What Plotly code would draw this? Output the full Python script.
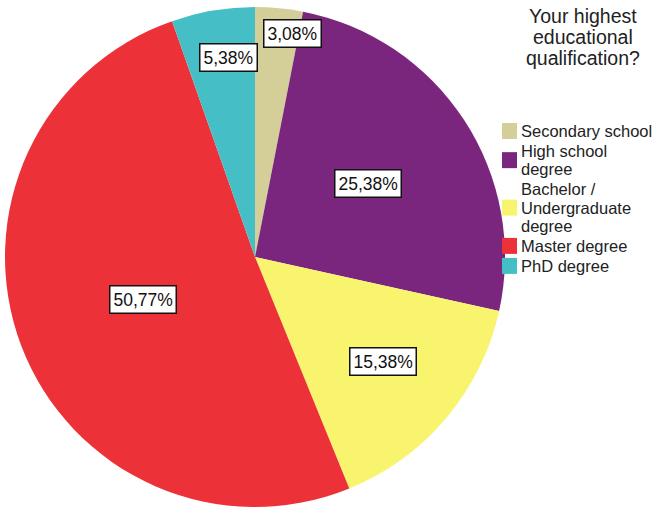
import math
import plotly.graph_objects as go

# Survey answers: highest educational qualification (percent of respondents)
categories = ["Secondary school", "High school degree", "Bachelor / Undergraduate degree",
              "Master degree", "PhD degree"]
percents = [3.08, 25.38, 15.38, 50.77, 5.38]
legend_lines = [["Secondary school"], ["High school", "degree"],
                ["Bachelor /", "Undergraduate", "degree"], ["Master degree"], ["PhD degree"]]
colors = ["#D4CF98", "#7B267E", "#F8F46E", "#EC3238", "#45BFC5"]
title_lines = ["Your highest", "educational", "qualification?"]

# Label placement: fraction of the radius along the slice bisector, plus a small x nudge
label_radius = [0.90, 0.54, 0.65, 0.48, 0.81]
label_xshift = [16, 0, 4, 0, 8]

W, H = 664, 507
cx, cy, R = 255, 257, 250  # pie centre / radius in pixels (y from top)
FONT = "Liberation Sans, Arial, sans-serif"

fig = go.Figure(go.Pie(
    labels=categories,
    values=percents,
    sort=False,
    direction="clockwise",
    rotation=0,
    marker=dict(colors=colors, line=dict(width=0)),
    textinfo="none",
    hoverinfo="label+percent",
    showlegend=False,
    domain=dict(x=[(cx - R) / W, (cx + R) / W], y=[(H - cy - R) / H, (H - cy + R) / H]),
))

total = sum(percents)
annotations = []
cum = 0.0
for v, rf, xs in zip(percents, label_radius, label_xshift):
    mid = (cum + v / 2) / total * 2 * math.pi
    cum += v
    px = cx + rf * R * math.sin(mid)
    py = cy - rf * R * math.cos(mid)
    annotations.append(dict(
        x=px / W, y=(H - py) / H, xref="paper", yref="paper",
        text=f"{v:.2f}%".replace(".", ","), showarrow=False, xshift=xs,
        font=dict(family=FONT, size=17.5, color="#111111"),
        bgcolor="white", bordercolor="#111111", borderwidth=1.5, borderpad=3,
        xanchor="center", yanchor="middle",
    ))

# Legend title
for i, t in enumerate(title_lines):
    annotations.append(dict(
        x=583 / W, y=(H - (16 + 21 * i)) / H, xref="paper", yref="paper",
        text=t, showarrow=False, xanchor="center", yanchor="middle",
        borderpad=0, borderwidth=0,
        font=dict(family=FONT, size=19.5, color="#222222"),
    ))

# Legend entries with swatches
shapes = []
y = 131
line_gap, item_gap = 18.3, 20
for lines, col in zip(legend_lines, colors):
    first = y
    for j, t in enumerate(lines):
        annotations.append(dict(
            x=521 / W, y=(H - y) / H, xref="paper", yref="paper",
            text=t, showarrow=False, xanchor="left", yanchor="middle",
            borderpad=0, borderwidth=0,
            font=dict(family=FONT, size=16.5, color="#222222"),
        ))
        if j < len(lines) - 1:
            y += line_gap
    mid_y = (first + y) / 2
    shapes.append(dict(
        type="rect", xref="paper", yref="paper",
        x0=502 / W, x1=517 / W, y0=(H - (mid_y - 8)) / H, y1=(H - (mid_y + 8)) / H,
        fillcolor=col, line=dict(width=0),
    ))
    y += item_gap

fig.update_layout(
    width=W, height=H,
    margin=dict(l=0, r=0, t=0, b=0),
    paper_bgcolor="white", plot_bgcolor="white",
    annotations=annotations, shapes=shapes,
)

fig.write_html("out.html")
